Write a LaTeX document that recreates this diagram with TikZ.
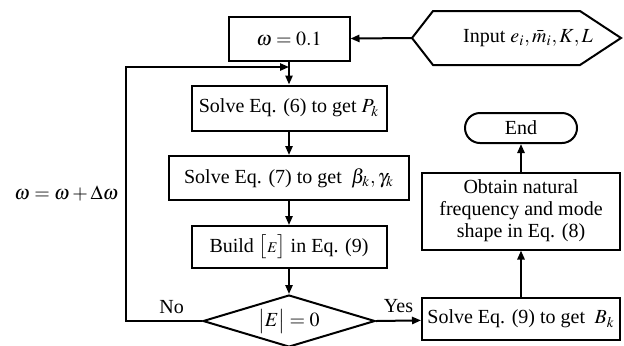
\documentclass[tikz,border=0pt]{standalone}
\usepackage{mathptmx}
\usepackage{fontspec}
\setmainfont{Liberation Serif}
\usepackage{tikz}
\usetikzlibrary{shapes.geometric, arrows.meta, positioning, calc}

\begin{document}
\begin{tikzpicture}[
    x=0.5pt, y=-0.5pt,
    line width=1pt,
    box/.style={draw, line width=1pt, inner sep=2pt, font=\fontsize{10}{11}\selectfont, align=center},
    cond/.style={draw, diamond, line width=1pt, inner sep=0pt, aspect=3.3, minimum width=86pt, minimum height=26pt, font=\fontsize{10}{11}\selectfont},
    arrow/.style={-{Triangle[length=4.5pt, width=3.6pt]}, line width=1pt},
    lbl/.style={font=\fontsize{10}{11}\selectfont}
]
    \useasboundingbox (0,0) rectangle (624,345);

    \node[box, minimum width=60.5pt, minimum height=22pt] (w01) at (289,39) {$\omega = 0.1$};
    \node[lbl] (input) at (528,38) {Input $e_i,\bar{m}_i,K,L$};
    \draw (412,38) coordinate (inputtip) -- (433,11) -- (580,11) -- (621,38) -- (580,65) -- (433,65) -- cycle;

    \node[box, minimum width=97.5pt, minimum height=22.5pt] (solve6) at (289,108) {Solve Eq. (6) to get $P_k$};
    \node[box, minimum width=120pt, minimum height=22pt] (solve7) at (289,178) {Solve Eq. (7) to get $\;\beta_k,\gamma_k$};
    \node[box, minimum width=97.5pt, minimum height=21pt] (build) at (289,247) {Build $\bigl[{\scriptstyle E}\bigr]$ in Eq. (9)};
    \node[cond] (check) at (289,321) {$\bigl|E\bigr| = 0$};

    \node[box, minimum width=99pt, minimum height=21pt] (solve9) at (521,319) {Solve Eq. (9) to get $\;B_k$};
    \node[box, minimum width=99pt, minimum height=38.5pt] (obtain) at (521,211) {Obtain natural\\frequency and mode\\shape in Eq. (8)};
    \node[box, rounded corners=7.5pt, minimum width=56pt, minimum height=15pt] (finish) at (521,128) {End};

    \node[lbl, anchor=east] (update) at (126,193) {$\omega = \omega + \Delta\omega$};

    \coordinate (fbtop) at (126,67);
    \coordinate (fbjoin) at (289,67);

    \draw[arrow] (inputtip) -- (w01);
    \draw[arrow] (w01) -- (solve6);
    \draw[arrow] (solve6) -- (solve7);
    \draw[arrow] (solve7) -- (build);
    \draw[arrow] (build) -- (check);
    \draw[arrow] (check.west) -| node[lbl, pos=0.2, above] {No} (fbtop) -- (fbjoin);
    \draw[arrow] (check.east) -- node[lbl, above] {Yes} (solve9);
    \draw[arrow] (solve9) -- (obtain);
    \draw[arrow] (obtain) -- (finish);
\end{tikzpicture}
\end{document}
